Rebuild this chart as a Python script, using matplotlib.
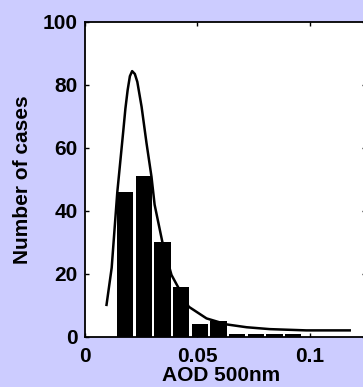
import matplotlib
matplotlib.use("Agg")
import matplotlib.pyplot as plt

# Histogram data
bin_centers = [0.0179, 0.0262, 0.0345, 0.0428, 0.0511, 0.0594, 0.0677, 0.0760, 0.0843, 0.0926]
counts = [46, 51, 30, 16, 4, 5, 1, 1, 1, 1]

# Fitted curve
curve_x = [0.0096, 0.0119, 0.0144, 0.0170, 0.0180, 0.0190, 0.0200, 0.0210, 0.0222, 0.0233, 0.0252, 0.0274, 0.0296,
           0.0310, 0.0344, 0.0385, 0.0462, 0.0541, 0.0630, 0.0719, 0.0822, 0.0985, 0.1178]
curve_y = [10.2, 22.0, 46.0, 65.0, 72.5, 78.4, 82.8, 84.4, 83.5, 81.0, 73.1, 61.5, 50.9,
           42.0, 30.3, 19.7, 9.6, 5.9, 4.0, 3.1, 2.5, 2.1, 2.1]

xticks = [0, 0.05, 0.1]
xticklabels = ["0", "0.05", "0.1"]
yticks = [0, 20, 40, 60, 80, 100]

plt.rcParams['font.family'] = ['Liberation Sans', 'DejaVu Sans']
plt.rcParams['font.weight'] = 'bold'

bg = '#CCCCFF'
fig = plt.figure(figsize=(3.63, 3.87), dpi=100, facecolor=bg)
ax = fig.add_axes([0.234, 0.1292, 0.774, 0.814])
ax.set_facecolor('white')

ax.bar(bin_centers, counts, width=0.0073, color='black', edgecolor='black', linewidth=0)
ax.plot(curve_x, curve_y, color='black', linewidth=1.8)

ax.set_xlim(0, 0.125)
ax.set_ylim(0, 100)
ax.set_xticks(xticks)
ax.set_xticklabels(xticklabels)
ax.set_yticks(yticks)
ax.tick_params(direction='in', top=True, right=True, length=3, width=1,
               labelsize=15)
ax.tick_params(axis='x', pad=7.5)
ax.tick_params(axis='y', pad=5)
for lab in ax.get_xticklabels() + ax.get_yticklabels():
    lab.set_fontweight('bold')
for s in ax.spines.values():
    s.set_linewidth(1.3)

ax.set_ylabel('Number of cases', fontsize=15, fontweight='bold', labelpad=8)
fig.text(0.609, 0.005, 'AOD 500nm', fontsize=15, fontweight='bold',
         ha='center', va='bottom')

fig.savefig('out.png', dpi=100, facecolor=bg)
